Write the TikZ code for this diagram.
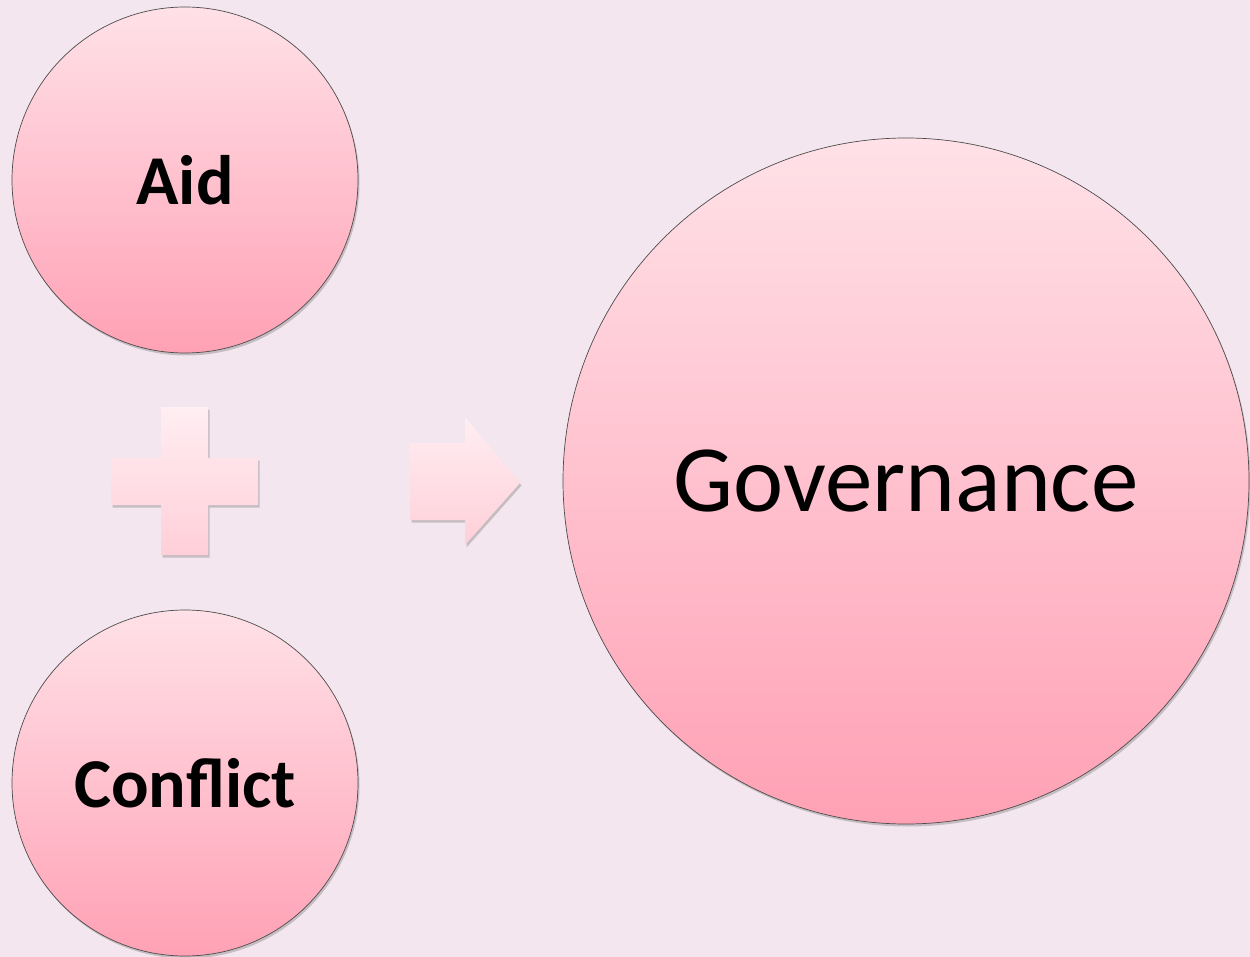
\documentclass[tikz,border=0pt]{standalone}
\usepackage{fontspec}
\setmainfont{Carlito}
\usetikzlibrary{shadows}
\definecolor{bgpink}{HTML}{F4E6EE}
\definecolor{circtop}{HTML}{FFE1E7}
\definecolor{circbot}{HTML}{FFA1B5}
\definecolor{signtop}{HTML}{FFEEF2}
\definecolor{signbot}{HTML}{FFCFD9}
\tikzset{
  bubble/.style={circle, draw=black!70, line width=0.7pt, inner sep=0pt,
    top color=circtop, bottom color=circbot,
    drop shadow={shadow xshift=1.5pt, shadow yshift=-2.5pt, opacity=0.4}},
  sign/.style={top color=signtop, bottom color=signbot,
    drop shadow={shadow xshift=1.5pt, shadow yshift=-2.5pt, opacity=0.4}}
}
\begin{document}
\begin{tikzpicture}[x=1pt,y=-1pt]
	% Background
	\fill[bgpink] (0,0) rectangle (1250,957);
	\useasboundingbox (0,0) rectangle (1250,957);
	
	% Circles
	\node[bubble, minimum size=346pt] (aid) at (185,180)
		{\fontsize{70}{84}\selectfont\bfseries Aid};
	\node[bubble, minimum size=346pt] (conflict) at (185,783)
		{\fontsize{70}{84}\selectfont\bfseries Conflict};
	\node[bubble, minimum size=686pt] (gov) at (906,481)
		{\fontsize{95}{114}\selectfont Governance};
	
	% Plus sign
	\path[sign] (161,407) -- (208,407) -- (208,458) -- (258,458) -- (258,505)
		-- (208,505) -- (208,555) -- (161,555) -- (161,505) -- (111,505)
		-- (111,458) -- (161,458) -- cycle;
	
	% Block arrow
	\path[sign] (410,443) -- (465,443) -- (465,417) -- (520,483) -- (465,545)
		-- (465,520) -- (410,520) -- cycle;
\end{tikzpicture}
\end{document}
